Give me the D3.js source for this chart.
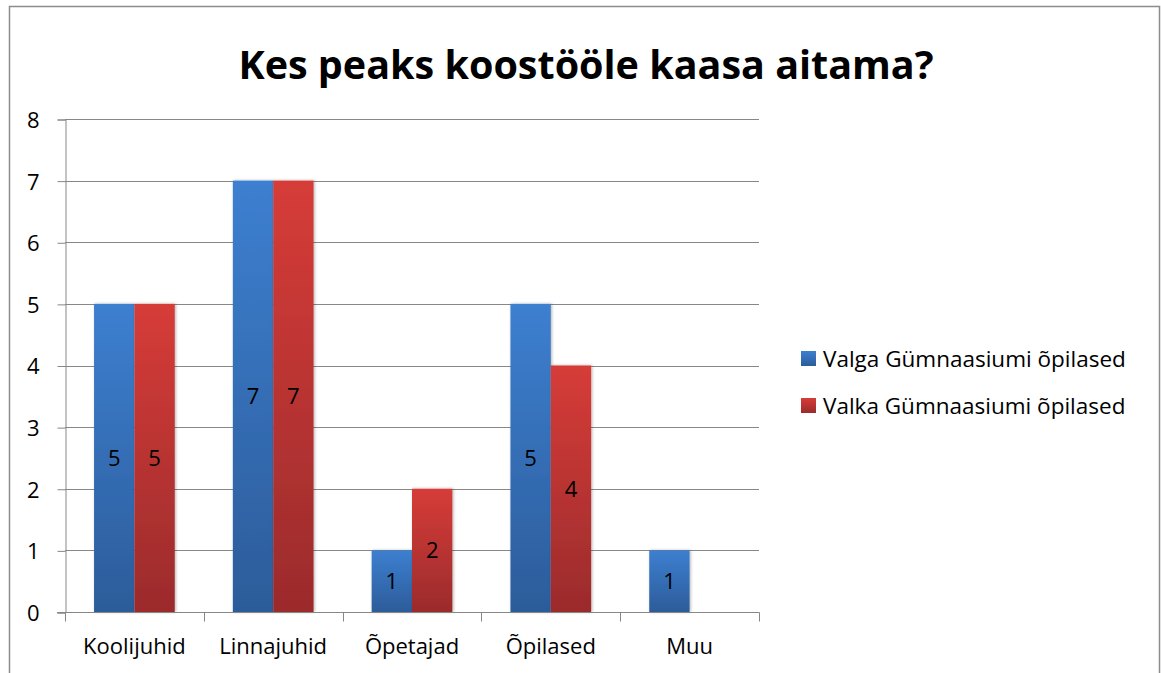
<!DOCTYPE html>
<html>
<head>
<meta charset="utf-8">
<script src="https://cdn.jsdelivr.net/npm/d3@7"></script>
<style>
  body { margin: 0; background: #fff; }
  text { font-family: "Open Sans", "Noto Sans", sans-serif; fill: #000; }
</style>
</head>
<body>
<div id="chart"></div>
<script>
var categories = ["Koolijuhid", "Linnajuhid", "Õpetajad", "Õpilased", "Muu"];
var valga = [5, 7, 1, 5, 1];
var valka = [5, 7, 2, 4, null];
var seriesNames = ["Valga Gümnaasiumi õpilased", "Valka Gümnaasiumi õpilased"];
var yTicks = [0, 1, 2, 3, 4, 5, 6, 7, 8];

var width = 1161, height = 673;
var plotLeft = 65, plotRight = 759, plotTop = 119, plotBottom = 612;

var svg = d3.select('#chart').append('svg')
    .attr('width', width)
    .attr('height', height);

var defs = svg.append('defs');
var grads = [["gBlue", "#3d7fd0", "#2c5c9a"], ["gRed", "#d63c38", "#9b2b2c"]];
grads.forEach(function(g) {
    var lg = defs.append('linearGradient').attr('id', g[0])
        .attr('x1', 0).attr('y1', 0).attr('x2', 0).attr('y2', 1);
    lg.append('stop').attr('offset', '0%').attr('stop-color', g[1]);
    lg.append('stop').attr('offset', '100%').attr('stop-color', g[2]);
});
var f = defs.append('filter').attr('id', 'shadow')
    .attr('x', '-20%').attr('y', '-5%').attr('width', '140%').attr('height', '110%');
f.append('feDropShadow').attr('dx', 1).attr('dy', 0).attr('stdDeviation', 1.5)
    .attr('flood-color', '#000').attr('flood-opacity', 0.3);

// outer border
svg.append('rect')
    .attr('x', 9.5).attr('y', 6.5)
    .attr('width', 1150).attr('height', 700)
    .attr('fill', 'none').attr('stroke', '#8c8c8c').attr('stroke-width', 1.5);

svg.append('text')
    .attr('x', 586).attr('y', 79)
    .attr('text-anchor', 'middle')
    .style('font-size', '39.5px').style('font-weight', 'bold')
    .text('Kes peaks koostööle kaasa aitama?');

var y = d3.scaleLinear().domain([0, 8]).range([plotBottom, plotTop]);
var x = d3.scaleBand().domain(categories).range([plotLeft, plotRight]).paddingInner(0).paddingOuter(0);
var sub = d3.scaleBand().domain([0, 1]).range([0, x.bandwidth()]).paddingOuter(0.72).paddingInner(0);

// gridlines
svg.append('g').selectAll('line')
    .data(yTicks.slice(1))
    .enter().append('line')
    .attr('x1', plotLeft).attr('x2', plotRight)
    .attr('y1', function(d) { return Math.round(y(d)) + 0.5; })
    .attr('y2', function(d) { return Math.round(y(d)) + 0.5; })
    .attr('stroke', '#878787').attr('stroke-width', 1);

// y axis
var yAxis = svg.append('g')
    .attr('transform', 'translate(' + (plotLeft + 0.5) + ',0.5)')
    .call(d3.axisLeft(y).tickValues(yTicks).tickSize(8).tickPadding(18));
yAxis.select('.domain').attr('stroke', '#878787');
yAxis.selectAll('line').attr('stroke', '#878787');
yAxis.selectAll('text').style('font-size', '22px').attr('dy', '0.36em');

// bars
var series = [valga, valka];
var fills = ["url(#gBlue)", "url(#gRed)"];
series.forEach(function(vals, s) {
    var g = svg.append('g');
    var data = categories.map(function(c, i) { return {c: c, v: vals[i]}; })
        .filter(function(d) { return d.v != null; });
    g.selectAll('rect').data(data).enter().append('rect')
        .attr('x', function(d) { return x(d.c) + sub(s); })
        .attr('y', function(d) { return y(d.v); })
        .attr('width', sub.bandwidth())
        .attr('height', function(d) { return y(0) - y(d.v); })
        .attr('fill', fills[s])
        .attr('filter', 'url(#shadow)');
    g.selectAll('text').data(data).enter().append('text')
        .attr('x', function(d) { return x(d.c) + sub(s) + sub.bandwidth() / 2; })
        .attr('y', function(d) { return (y(d.v) + y(0)) / 2; })
        .attr('dy', '0.36em')
        .attr('text-anchor', 'middle')
        .style('font-size', '22px')
        .text(function(d) { return d.v; });
});

// x axis
var xAxis = svg.append('g')
    .attr('transform', 'translate(0,' + (plotBottom + 0.5) + ')');
xAxis.append('line').attr('x1', plotLeft - 8).attr('x2', plotRight + 0.5)
    .attr('stroke', '#878787');
var xt = d3.range(categories.length + 1).map(function(i) { return plotLeft + i * x.bandwidth(); });
xAxis.selectAll('.tk').data(xt).enter().append('line')
    .attr('x1', function(d) { return Math.round(d) + 0.5; })
    .attr('x2', function(d) { return Math.round(d) + 0.5; })
    .attr('y1', 0).attr('y2', 9)
    .attr('stroke', '#878787');
xAxis.selectAll('text').data(categories).enter().append('text')
    .attr('x', function(d) { return x(d) + x.bandwidth() / 2; })
    .attr('y', 41)
    .attr('text-anchor', 'middle')
    .style('font-size', '22px')
    .text(function(d) { return d; });

// legend
var legend = svg.append('g');
seriesNames.forEach(function(name, i) {
    var ly = 351 + i * 47;
    legend.append('rect').attr('x', 801).attr('y', ly).attr('width', 15).attr('height', 15)
        .attr('fill', fills[i]);
    legend.append('text').attr('x', 823).attr('y', ly + 8).attr('dy', '0.36em')
        .style('font-size', '22.5px').text(name);
});
</script>
</body>
</html>
